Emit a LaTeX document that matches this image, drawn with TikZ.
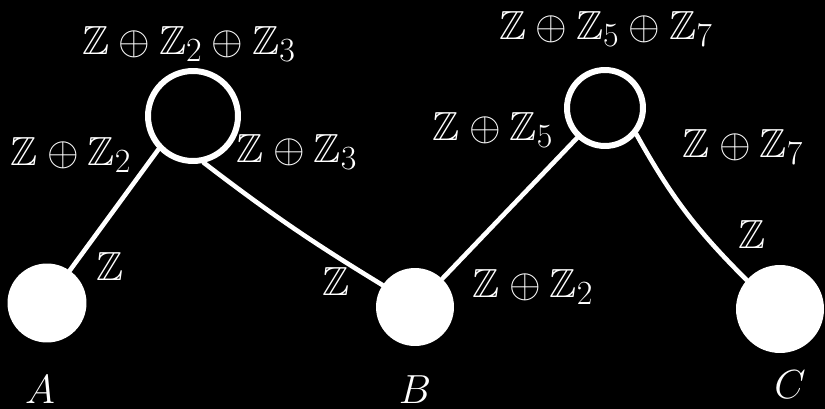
\documentclass[tikz,border=0pt]{standalone}
\usepackage{amssymb}

\begin{document}
\begin{tikzpicture}[x=0.02cm, y=-0.02cm,
    blob/.style={circle, fill=white, inner sep=0pt, minimum size=#1},
    ring/.style={circle, draw=white, line width=3.4pt, inner sep=0pt, minimum size=#1},
    link/.style={white, line width=2.6pt, line cap=round},
    lab/.style={white, anchor=base, inner sep=0pt, scale=0.93, font=\Huge}]
    \fill[black] (0,0) rectangle (825,409);
    % points and loops
    \node[blob=1.58cm] (a) at (47,303) {};
    \node[blob=1.56cm] (b) at (415,307) {};
    \node[blob=1.76cm] (c) at (780,309) {};
    \node[ring=1.8cm] (l23) at (193,116) {};
    \node[ring=1.52cm] (l57) at (605,108) {};
    % connectors
    \draw[link] (a.55) -- (l23.224);
    \draw[link] (l23.283) to[bend right=3] (b.146);
    \draw[link] (b.46) -- (l57.227);
    \draw[link] (l57.320) to[bend right=8] (c.139);
    % groups
    \node[lab] (g23) at (189,54) {$\mathbb{Z}\oplus\mathbb{Z}_2\oplus\mathbb{Z}_3$};
    \node[lab] (g57) at (606,39) {$\mathbb{Z}\oplus\mathbb{Z}_5\oplus\mathbb{Z}_7$};
    \node[lab] (e1) at (71,165) {$\mathbb{Z}\oplus\mathbb{Z}_2$};
    \node[lab] (e2) at (297,162) {$\mathbb{Z}\oplus\mathbb{Z}_3$};
    \node[lab] (e3) at (493,140) {$\mathbb{Z}\oplus\mathbb{Z}_5$};
    \node[lab] (e4) at (743,157) {$\mathbb{Z}\oplus\mathbb{Z}_7$};
    \node[lab] (e5) at (533,297) {$\mathbb{Z}\oplus\mathbb{Z}_2$};
    \node[lab] (za) at (110,280) {$\mathbb{Z}$};
    \node[lab] (zb) at (336,295) {$\mathbb{Z}$};
    \node[lab] (zc) at (752,248) {$\mathbb{Z}$};
    % names
    \node[lab] (na) at (40,403) {$A$};
    \node[lab] (nb) at (415,403) {$B$};
    \node[lab] (nc) at (790,398) {$C$};
\end{tikzpicture}
\end{document}
